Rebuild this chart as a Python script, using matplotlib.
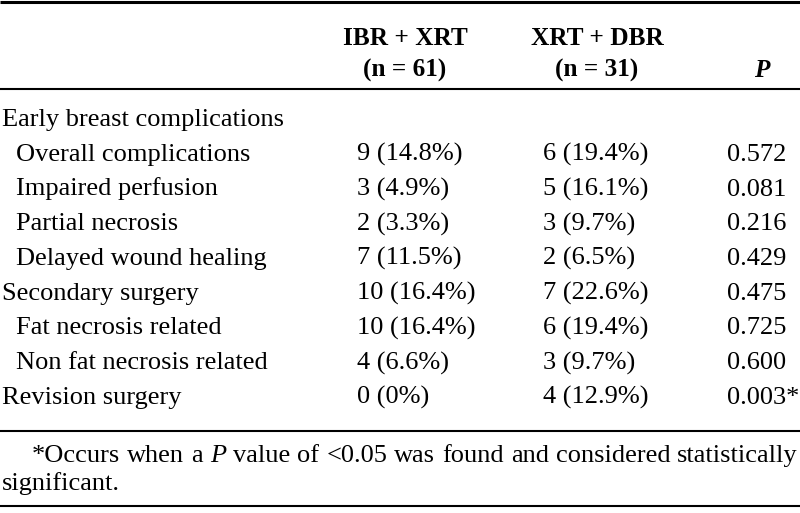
#!/usr/bin/env python3
"""Complications table: IBR + XRT vs XRT + DBR."""

import matplotlib
matplotlib.use("Agg")
import matplotlib.pyplot as plt

# ── Data ─────────────────────────────────────────────────────────────────────
ROW_LABELS = [
    "Early breast complications",
    "Overall complications",
    "Impaired perfusion",
    "Partial necrosis",
    "Delayed wound healing",
    "Secondary surgery",
    "Fat necrosis related",
    "Non fat necrosis related",
    "Revision surgery",
]
ROW_INDENT = [False, True, True, True, True, False, True, True, False]
IBR_XRT = ["", "9 (14.8%)", "3 (4.9%)", "2 (3.3%)", "7 (11.5%)",
           "10 (16.4%)", "10 (16.4%)", "4 (6.6%)", "0 (0%)"]
XRT_DBR = ["", "6 (19.4%)", "5 (16.1%)", "3 (9.7%)", "2 (6.5%)",
           "7 (22.6%)", "6 (19.4%)", "3 (9.7%)", "4 (12.9%)"]
P_VALUES = ["", "0.572", "0.081", "0.216", "0.429",
            "0.475", "0.725", "0.600", "0.003*"]
HEADERS = [("IBR + XRT", "(n = 61)"), ("XRT + DBR", "(n = 31)")]
FOOT_WORDS = ["*Occurs", "when", "a", "P", "value", "of", "<0.05", "was",
              "found", "and", "considered", "statistically"]
FOOT_LINE2 = "significant."

FONT = "Liberation Serif"
FS = 19
W, H = 800, 513

fig = plt.figure(figsize=(W / 100, H / 100), dpi=100)
ax = fig.add_axes([0, 0, 1, 1])
ax.set_xlim(0, W)
ax.set_ylim(H, 0)
ax.axis("off")

txt = dict(family=FONT, fontsize=FS, color="black", va="baseline")
hdr = dict(txt, fontsize=18.2, weight="bold")

# rules
ax.plot([0, W], [1.5, 1.5], color="black", lw=2.2, solid_capstyle="butt")
ax.plot([0, W], [89, 89], color="black", lw=1.5, solid_capstyle="butt")
ax.plot([0, W], [431, 431], color="black", lw=1.5, solid_capstyle="butt")
ax.plot([0, W], [506, 506], color="black", lw=1.5, solid_capstyle="butt")

# header
for cx, (top, bot) in zip([405, 597], HEADERS):
    ax.text(cx, 45, top, ha="center", **hdr)
    ax.text(cx, 77, bot, ha="center", **hdr)
ax.text(762, 77, "P", ha="center", style="italic", **hdr)

# body rows
y0, dy = 126, 34.75
for i, label in enumerate(ROW_LABELS):
    y = y0 + i * dy
    ax.text(16 if ROW_INDENT[i] else 2, y, label, ha="left", **txt)
    ax.text(357, y, IBR_XRT[i], ha="left", **txt)
    ax.text(543, y, XRT_DBR[i], ha="left", **txt)
    ax.text(727, y, P_VALUES[i], ha="left", **txt)

# footnote, first line justified between x=32 and x=798
words = []
for w in FOOT_WORDS:
    words.append(ax.text(0, 462, w, ha="left", style="italic" if w == "P" else "normal", **txt))
fig.canvas.draw()
renderer = fig.canvas.get_renderer()
inv = ax.transData.inverted()
widths = []
for t in words:
    bb = t.get_window_extent(renderer)
    (x0, _), (x1, _) = inv.transform([[bb.x0, bb.y0], [bb.x1, bb.y1]])
    widths.append(x1 - x0)
left, right = 32, 798
gap = (right - left - sum(widths)) / (len(words) - 1)
x = left
for t, wdt in zip(words, widths):
    t.set_x(x)
    x += wdt + gap
ax.text(2, 490, FOOT_LINE2, ha="left", **txt)

fig.savefig("out.png", dpi=100)
